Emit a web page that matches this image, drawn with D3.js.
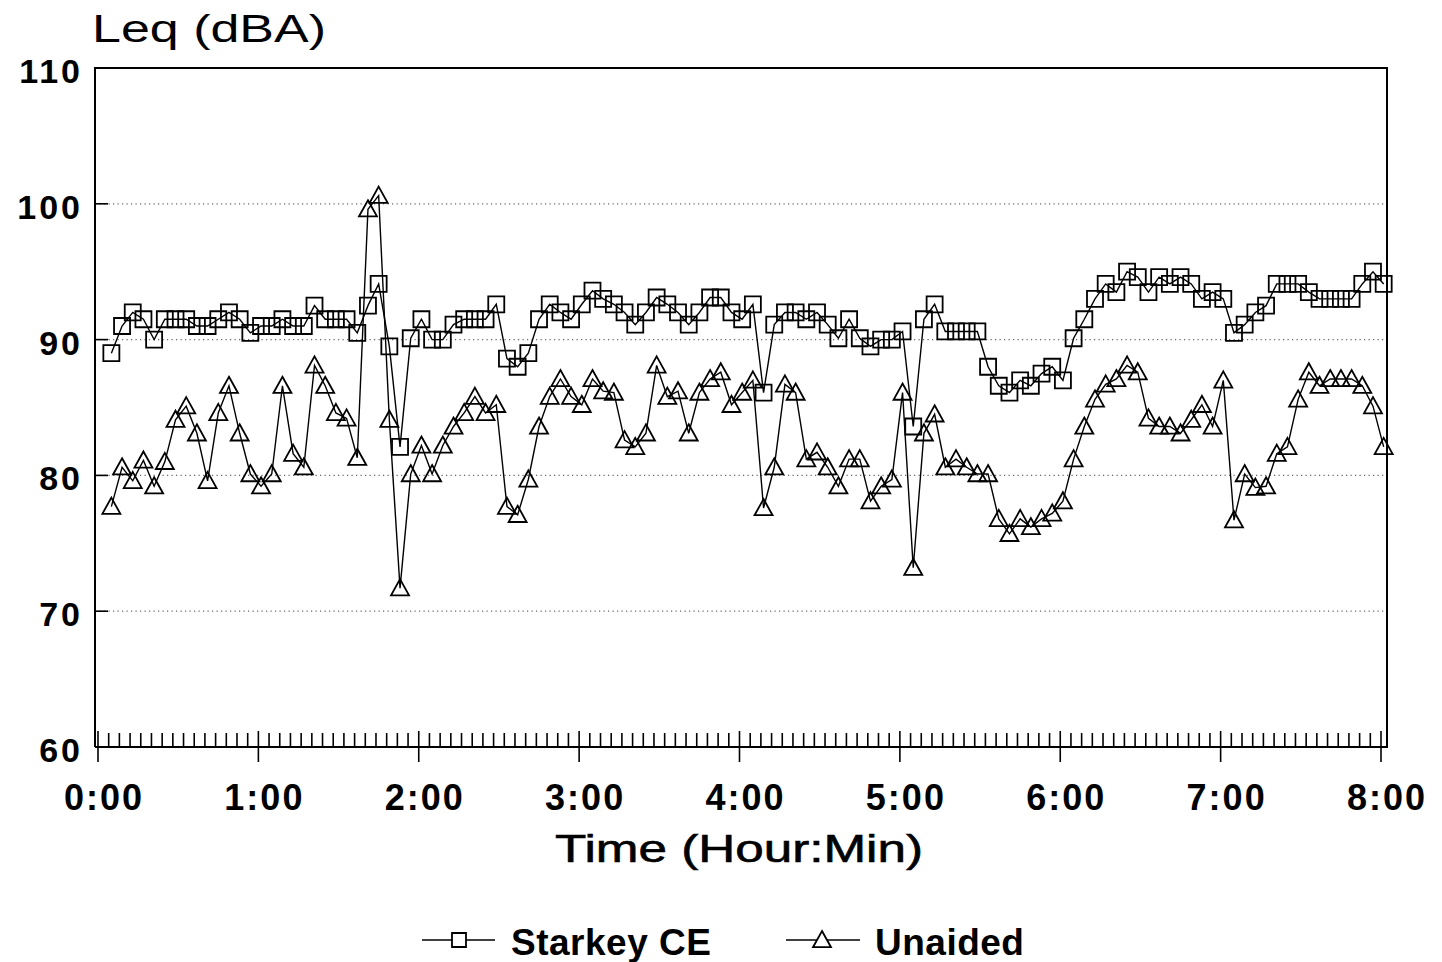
<!DOCTYPE html>
<html>
<head>
<meta charset="utf-8">
<title>Leq (dBA)</title>
<style>
body { margin: 0; background: #fff; }
text { font-family: "Liberation Sans", Arial, sans-serif; fill: #000; }
.grid { stroke: #666; stroke-width: 1.2px; stroke-dasharray: 1.2,3.3; }
.frame { fill: none; stroke: #000; stroke-width: 2px; }
.tick { stroke: #000; stroke-width: 1.6px; }
.series { fill: none; stroke: #000; stroke-width: 1.4px; }
.mark { fill: none; stroke: #000; stroke-width: 1.8px; }
</style>
</head>
<body>
<script src="https://cdn.jsdelivr.net/npm/d3@7"></script>
<script>

// minutes from start of the recording, one Leq sample every 4 minutes
var minutes = [5, 9, 13, 17, 21, 25, 29, 33, 37, 41, 45, 49, 53, 57, 61, 65, 69, 73, 77, 81,
  85, 89, 93, 97, 101, 105, 109, 113, 117, 121, 125, 129, 133, 137, 141, 145, 149, 153, 157, 161,
  165, 169, 173, 177, 181, 185, 189, 193, 197, 201, 205, 209, 213, 217, 221, 225, 229, 233, 237, 241,
  245, 249, 253, 257, 261, 265, 269, 273, 277, 281, 285, 289, 293, 297, 301, 305, 309, 313, 317, 321,
  325, 329, 333, 337, 341, 345, 349, 353, 357, 361, 365, 369, 373, 377, 381, 385, 389, 393, 397, 401,
  405, 409, 413, 417, 421, 425, 429, 433, 437, 441, 445, 449, 453, 457, 461, 465, 469, 473, 477, 481];

var starkey = [89.0, 91.0, 92.0, 91.5, 90.0, 91.5, 91.5, 91.5, 91.0, 91.0, 91.5, 92.0, 91.5, 90.5, 91.0, 91.0, 91.5, 91.0, 91.0, 92.5,
  91.5, 91.5, 91.5, 90.5, 92.5, 94.1, 89.5, 82.1, 90.1, 91.5, 90.0, 90.0, 91.1, 91.5, 91.5, 91.5, 92.6, 88.6, 88.0, 89.0,
  91.5, 92.6, 92.0, 91.5, 92.6, 93.6, 93.0, 92.6, 92.0, 91.1, 92.0, 93.1, 92.6, 92.0, 91.1, 92.0, 93.1, 93.1, 92.0, 91.5,
  92.6, 86.1, 91.1, 92.0, 92.0, 91.5, 92.0, 91.1, 90.1, 91.5, 90.1, 89.5, 90.0, 90.0, 90.6, 83.6, 91.5, 92.6, 90.6, 90.6,
  90.6, 90.6, 88.0, 86.6, 86.1, 87.0, 86.6, 87.5, 88.0, 87.0, 90.1, 91.5, 93.0, 94.1, 93.5, 95.0, 94.6, 93.5, 94.6, 94.1,
  94.6, 94.1, 93.0, 93.5, 93.0, 90.5, 91.1, 92.0, 92.5, 94.1, 94.1, 94.1, 93.5, 93.0, 93.0, 93.0, 93.0, 94.1, 95.0, 94.1];

var unaided = [77.7, 80.6, 79.6, 81.1, 79.2, 81.0, 84.1, 85.1, 83.1, 79.6, 84.6, 86.6, 83.1, 80.1, 79.2, 80.1, 86.6, 81.6, 80.6, 88.1,
  86.6, 84.6, 84.2, 81.3, 99.6, 100.6, 84.1, 71.7, 80.1, 82.2, 80.1, 82.2, 83.6, 84.6, 85.8, 84.6, 85.2, 77.7, 77.1, 79.7,
  83.6, 85.8, 87.1, 85.8, 85.2, 87.1, 86.2, 86.1, 82.6, 82.1, 83.1, 88.1, 85.8, 86.2, 83.1, 86.1, 87.1, 87.6, 85.2, 86.1,
  87.0, 77.6, 80.6, 86.7, 86.1, 81.2, 81.7, 80.6, 79.2, 81.2, 81.2, 78.1, 79.2, 79.7, 86.1, 73.2, 83.1, 84.5, 80.6, 81.2,
  80.6, 80.1, 80.1, 76.8, 75.7, 76.8, 76.2, 76.8, 77.2, 78.1, 81.2, 83.6, 85.6, 86.7, 87.1, 88.1, 87.6, 84.2, 83.6, 83.6,
  83.1, 84.1, 85.2, 83.6, 87.0, 76.7, 80.1, 79.1, 79.2, 81.6, 82.1, 85.6, 87.6, 86.6, 87.1, 87.1, 87.1, 86.6, 85.1, 82.1];

var yTicks = [60, 70, 80, 90, 100, 110];
var hourTicks = [0, 60, 120, 180, 240, 300, 360, 420, 480];
var hourLabels = ["0:00", "1:00", "2:00", "3:00", "4:00", "5:00", "6:00", "7:00", "8:00"];
var seriesNames = ["Starkey CE", "Unaided"];

var width = 1442,
    height = 962;

var x = d3.scaleLinear().domain([0, 480]).range([98, 1381]);
var y = d3.scaleLinear().domain([60, 110]).range([747, 68]);

var plotLeft = 95, plotRight = 1387, plotTop = y(110), plotBottom = y(60);

var svg = d3.select("body").append("svg")
    .attr("width", width)
    .attr("height", height);

// dotted grid lines
svg.append("g")
    .selectAll("line")
    .data(yTicks.slice(1, -1))
    .enter().append("line")
    .attr("class", "grid")
    .attr("x1", plotLeft).attr("x2", plotRight)
    .attr("y1", function(d) { return y(d); })
    .attr("y2", function(d) { return y(d); });

// short inward y ticks
svg.append("g")
    .selectAll("line")
    .data(yTicks.slice(1, -1))
    .enter().append("line")
    .attr("class", "tick")
    .attr("x1", plotLeft).attr("x2", plotLeft + 13)
    .attr("y1", function(d) { return y(d); })
    .attr("y2", function(d) { return y(d); });

// y labels
svg.append("g")
    .selectAll("text")
    .data(yTicks)
    .enter().append("text")
    .attr("x", 83)
    .attr("y", function(d) { return y(d) + 15; })
    .attr("text-anchor", "end")
    .style("font-size", "34px")
    .style("font-weight", "bold")
    .style("letter-spacing", "3px")
    .text(function(d) { return d; });

// minor x ticks every 4 minutes
var minorTicks = d3.range(4, 480, 4).filter(function(m) { return m % 60 != 0; });
svg.append("g")
    .selectAll("line")
    .data(minorTicks)
    .enter().append("line")
    .attr("class", "tick")
    .attr("x1", function(d) { return x(d); })
    .attr("x2", function(d) { return x(d); })
    .attr("y1", plotBottom).attr("y2", plotBottom - 14);

// hour ticks, through the axis
svg.append("g")
    .selectAll("line")
    .data(hourTicks)
    .enter().append("line")
    .attr("class", "tick")
    .attr("x1", function(d) { return x(d); })
    .attr("x2", function(d) { return x(d); })
    .attr("y1", plotBottom - 16).attr("y2", plotBottom + 15);

svg.append("g")
    .selectAll("text")
    .data(hourTicks)
    .enter().append("text")
    .attr("x", function(d) { return x(d) + 6; })
    .attr("y", 810)
    .attr("text-anchor", "middle")
    .style("font-size", "36px")
    .style("font-weight", "bold")
    .style("letter-spacing", "2px")
    .text(function(d, i) { return hourLabels[i]; });

// frame
svg.append("path")
    .attr("class", "frame")
    .attr("d", "M" + plotLeft + "," + plotBottom + "V" + plotTop + "H" + plotRight + "V" + plotBottom + "H" + plotLeft);

// titles
svg.append("text")
    .attr("x", 92).attr("y", 42)
    .attr("textLength", 234)
    .attr("lengthAdjust", "spacingAndGlyphs")
    .style("font-size", "38px")
    .text("Leq (dBA)");

svg.append("text")
    .attr("x", 555).attr("y", 862)
    .attr("textLength", 368)
    .attr("lengthAdjust", "spacingAndGlyphs")
    .style("font-size", "38px")
    .style("stroke", "#000")
    .style("stroke-width", "0.6px")
    .text("Time (Hour:Min)");

var line = d3.line()
    .x(function(d) { return x(d.t); })
    .y(function(d) { return y(d.v); });

function toPoints(values) {
  return values.map(function(v, i) { return {t: minutes[i], v: v}; });
}

function square(cx, cy, s) {
  return "M" + (cx - s) + "," + (cy - s) + "h" + (2 * s) + "v" + (2 * s) + "h" + (-2 * s) + "Z";
}

function triangle(cx, cy, s) {
  return "M" + cx + "," + (cy - s) + "L" + (cx + s) + "," + (cy + s * 0.8) + "L" + (cx - s) + "," + (cy + s * 0.8) + "Z";
}

var data = [
  {name: seriesNames[0], points: toPoints(starkey), shape: square, size: 8},
  {name: seriesNames[1], points: toPoints(unaided), shape: triangle, size: 9}
];

data.forEach(function(s) {
  var g = svg.append("g");
  g.append("path")
      .attr("class", "series")
      .attr("d", line(s.points));
  g.selectAll(".mark")
      .data(s.points)
      .enter().append("path")
      .attr("class", "mark")
      .attr("d", function(d) { return s.shape(x(d.t), y(d.v), s.size); });
});

// legend
var legend = [
  {x1: 422, x2: 495, cx: 459, tx: 511, shape: square, size: 7},
  {x1: 786, x2: 860, cx: 822, tx: 875, shape: triangle, size: 9}
];

var lg = svg.append("g")
    .selectAll("g")
    .data(legend)
    .enter().append("g");

lg.append("line")
    .attr("class", "series")
    .attr("x1", function(d) { return d.x1; })
    .attr("x2", function(d) { return d.x2; })
    .attr("y1", 940).attr("y2", 940);

lg.append("path")
    .attr("class", "mark")
    .style("fill", "#fff")
    .attr("d", function(d) { return d.shape(d.cx, 940, d.size); });

lg.append("text")
    .attr("x", function(d) { return d.tx; })
    .attr("y", 955)
    .style("font-size", "37px")
    .style("font-weight", "bold")
    .style("letter-spacing", "0.5px")
    .text(function(d, i) { return seriesNames[i]; });

</script>
</body>
</html>
